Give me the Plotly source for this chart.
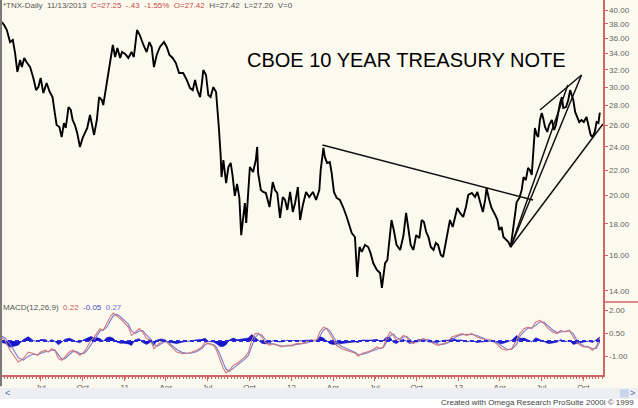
import plotly.graph_objects as go
import pandas as pd

# ---------------- data ----------------
start_date = pd.Timestamp("2010-04-03")

# daily-close path of ^TNX, days counted from start_date
price_day = [
    4, 9, 15, 19, 22, 28, 33, 38, 44, 48,
    53, 58, 66, 73, 79, 84, 89, 95, 102, 109,
    115, 120, 124, 130, 135, 140, 144, 150, 155, 159,
    164, 169, 175, 181, 186, 191, 197, 201, 206, 212,
    217, 223, 226, 232, 237, 242, 247, 252, 257, 263,
    267, 274, 281, 288, 293, 300, 306, 314, 321, 327,
    332, 337, 343, 350, 359, 365, 371, 378, 385, 392,
    401, 409, 416, 422, 427, 432, 438, 442, 445, 451,
    456, 461, 467, 473, 476, 479, 483, 485, 489, 495,
    500, 505, 509, 514, 519, 524, 528, 533, 536, 539,
    544, 547, 554, 560, 563, 565, 571, 576, 582, 590,
    597, 602, 607, 613, 619, 624, 629, 635, 641, 646,
    652, 657, 663, 670, 677, 685, 692, 699, 702, 708,
    711, 716, 722, 726, 731, 737, 744, 751, 759, 770,
    777, 782, 787, 792, 799, 806, 811, 817, 825, 832,
    836, 839, 843, 848, 852, 857, 862, 868, 876, 883,
    889, 894, 899, 905, 911, 918, 923, 928, 933, 938,
    943, 949, 954, 959, 965, 970, 976, 981, 985, 991,
    996, 1001, 1007, 1014, 1020, 1025, 1033, 1040, 1045, 1051,
    1057, 1062, 1065, 1071, 1076, 1084, 1089, 1093, 1098, 1102,
    1108, 1113, 1118, 1122, 1127, 1131, 1137, 1142, 1146, 1151,
    1156, 1160, 1164, 1167, 1171, 1175, 1178, 1182, 1186, 1189,
    1193, 1198, 1202, 1208, 1213, 1217, 1222, 1226, 1230, 1233,
    1239, 1244, 1248, 1251, 1255, 1259, 1264, 1268, 1273, 1278,
    1284, 1288, 1293, 1297, 1302, 1306, 1310, 1313,
]
price_close = [
    38.24, 37.82, 37.12, 36.30, 35.49, 35.76, 34.07, 31.73, 33.18, 32.32,
    33.44, 32.93, 32.32, 31.03, 29.66, 29.99, 31.03, 29.33, 30.45, 29.44,
    28.89, 27.22, 26.03, 25.84, 24.89, 26.22, 25.74, 27.84, 27.53, 26.52,
    26.03, 25.27, 23.98, 24.80, 25.27, 25.74, 27.02, 26.03, 25.08, 26.52,
    28.89, 28.58, 28.05, 29.88, 31.61, 33.18, 35.10, 33.56, 34.71, 33.44,
    34.19, 33.94, 33.44, 34.19, 33.56, 37.12, 36.43, 35.10, 34.19, 35.49,
    34.84, 32.32, 33.81, 34.84, 35.49, 34.84, 33.81, 33.44, 32.81, 31.61,
    31.61, 30.79, 29.88, 29.66, 30.79, 29.66, 28.89, 30.45, 31.97, 31.38,
    29.11, 28.89, 29.99, 29.44, 27.84, 25.84, 23.27, 21.43, 22.84, 20.95,
    22.25, 22.59, 21.59, 19.97, 20.88, 19.82, 17.25, 18.95, 19.45, 18.05,
    20.64, 22.25, 21.84, 22.84, 23.98, 21.76, 20.42, 20.27, 20.19, 19.16,
    21.03, 20.42, 20.19, 18.39, 19.89, 19.67, 18.95, 20.27, 18.81, 19.45,
    20.64, 18.25, 19.31, 20.27, 19.89, 20.27, 19.67, 20.42, 22.00, 23.89,
    23.10, 22.59, 22.67, 21.76, 20.27, 19.82, 19.67, 19.16, 18.46, 17.38,
    17.13, 14.75, 16.50, 16.20, 16.63, 16.50, 16.14, 15.54, 15.14, 14.97,
    14.16, 14.75, 15.54, 15.72, 16.75, 18.25, 17.58, 16.63, 16.32, 17.19,
    18.74, 17.78, 16.63, 16.32, 17.25, 17.06, 18.25, 18.11, 17.45, 17.13,
    16.50, 16.32, 16.75, 16.63, 16.02, 15.90, 16.75, 17.58, 18.25, 17.78,
    18.39, 19.09, 18.74, 18.46, 19.16, 20.04, 20.19, 19.89, 20.27, 19.45,
    18.81, 19.67, 20.57, 19.67, 19.09, 18.60, 18.25, 17.58, 17.78, 17.13,
    16.94, 16.81, 16.50, 17.38, 18.46, 19.52, 19.82, 20.42, 21.43, 21.19,
    22.17, 22.00, 21.59, 23.45, 25.74, 25.08, 24.89, 26.52, 27.22, 26.72,
    25.84, 25.36, 26.03, 26.52, 25.55, 26.03, 27.33, 28.26, 28.89, 27.74,
    27.84, 28.58, 29.66, 29.11, 28.58, 27.33, 26.82, 26.32, 26.52, 26.32,
    26.82, 26.03, 25.08, 24.89, 25.36, 26.32, 26.22, 27.25,
]

# MACD(12,26,9) panel
macd_day = [
    2, 11, 22, 33, 40, 51, 62, 73, 82, 89,
    99, 106, 113, 120, 128, 135, 142, 152, 159, 166,
    175, 184, 191, 199, 206, 213, 219, 226, 234, 241,
    248, 255, 263, 271, 281, 288, 296, 305, 312, 321,
    330, 337, 344, 352, 361, 368, 376, 387, 398, 409,
    420, 431, 442, 449, 456, 467, 474, 482, 489, 495,
    502, 511, 519, 527, 536, 544, 551, 558, 565, 573,
    580, 590, 598, 607, 617, 628, 639, 649, 660, 671,
    682, 693, 700, 708, 715, 722, 730, 737, 748, 759,
    770, 779, 784, 792, 803, 814, 825, 832, 839, 846,
    854, 861, 868, 876, 883, 890, 897, 905, 916, 927,
    938, 949, 959, 970, 981, 989, 1000, 1011, 1022, 1033,
    1044, 1054, 1065, 1076, 1087, 1098, 1109, 1120, 1131, 1138,
    1147, 1156, 1164, 1173, 1182, 1191, 1200, 1210, 1220, 1227,
    1237, 1246, 1255, 1262, 1270, 1278, 1288, 1297, 1305, 1313,
]
macd_line = [
    0.26, 0.05, -0.60, -1.04, -1.37, -1.15, -0.72, -0.82, -0.93, -0.72,
    -0.60, -0.72, -0.50, -0.60, -1.15, -1.26, -1.04, -0.72, -0.60, -0.72,
    -0.93, -0.72, -0.39, 0.05, 0.26, 0.59, 0.81, 0.70, 1.13, 1.57,
    1.83, 1.68, 1.46, 1.24, 0.91, 0.37, 0.59, 0.81, 0.59, 0.16,
    0.05, -0.50, -0.28, -0.07, 0.05, -0.17, -0.39, -0.72, -0.82, -0.82,
    -0.72, -0.60, -0.39, -0.07, -0.17, -0.28, -0.60, -1.26, -1.80, -2.09,
    -1.91, -1.58, -1.47, -1.26, -1.04, -0.72, 0.05, 0.48, 0.52, 0.26,
    -0.07, -0.28, -0.17, -0.28, -0.39, -0.28, -0.28, -0.17, -0.17, -0.07,
    0.05, 0.05, 0.59, 0.91, 0.81, 0.48, 0.05, -0.28, -0.50, -0.60,
    -0.72, -0.82, -1.00, -0.82, -0.72, -0.60, -0.39, -0.50, -0.39, 0.16,
    0.59, 0.37, 0.05, 0.16, 0.37, 0.26, -0.07, -0.17, 0.05, 0.16,
    0.05, -0.17, -0.28, -0.17, -0.07, 0.26, 0.37, 0.48, 0.37, 0.48,
    0.26, 0.16, 0.05, 0.05, -0.17, -0.50, -0.60, -0.50, 0.16, 0.48,
    0.81, 0.91, 0.81, 1.24, 1.35, 1.13, 0.81, 0.59, 0.48, 0.70,
    0.59, 0.70, 0.26, -0.07, -0.28, -0.39, -0.39, -0.60, -0.39, 0.22,
]
macd_signal = [
    0.35, 0.20, -0.20, -0.70, -1.10, -1.25, -1.00, -0.85, -0.90, -0.82,
    -0.70, -0.68, -0.60, -0.58, -0.90, -1.18, -1.15, -0.90, -0.70, -0.68,
    -0.82, -0.82, -0.60, -0.25, 0.05, 0.38, 0.65, 0.72, 0.90, 1.30,
    1.65, 1.75, 1.60, 1.38, 1.10, 0.66, 0.50, 0.66, 0.68, 0.38,
    0.12, -0.20, -0.35, -0.20, -0.04, -0.08, -0.28, -0.55, -0.74, -0.80,
    -0.78, -0.68, -0.50, -0.25, -0.15, -0.22, -0.42, -0.90, -1.45, -1.85,
    -1.98, -1.78, -1.55, -1.38, -1.18, -0.92, -0.38, 0.20, 0.45, 0.40,
    0.12, -0.15, -0.20, -0.24, -0.33, -0.32, -0.30, -0.22, -0.18, -0.12,
    -0.02, 0.04, 0.30, 0.72, 0.84, 0.66, 0.28, -0.08, -0.36, -0.52,
    -0.64, -0.76, -0.90, -0.88, -0.78, -0.66, -0.50, -0.46, -0.44, -0.10,
    0.35, 0.46, 0.22, 0.12, 0.26, 0.30, 0.10, -0.10, -0.05, 0.08,
    0.10, -0.05, -0.20, -0.22, -0.12, 0.08, 0.30, 0.42, 0.42, 0.44,
    0.36, 0.22, 0.10, 0.05, -0.05, -0.32, -0.52, -0.55, -0.20, 0.30,
    0.62, 0.84, 0.85, 1.02, 1.26, 1.22, 0.98, 0.72, 0.55, 0.60,
    0.64, 0.66, 0.48, 0.10, -0.16, -0.32, -0.38, -0.50, -0.48, -0.05,
]
macd_hist = [
    -0.09, -0.15, -0.40, -0.34, -0.27, 0.10, 0.28, 0.03, -0.03, 0.10,
    0.10, -0.04, 0.10, -0.02, -0.25, -0.08, 0.11, 0.18, 0.10, -0.04,
    -0.11, 0.10, 0.21, 0.30, 0.21, 0.21, 0.16, -0.02, 0.23, 0.27,
    0.18, -0.07, -0.14, -0.14, -0.19, -0.29, 0.09, 0.15, -0.09, -0.22,
    -0.07, -0.30, 0.07, 0.13, 0.09, -0.09, -0.11, -0.17, -0.08, -0.02,
    0.06, 0.08, 0.11, 0.18, -0.02, -0.06, -0.18, -0.36, -0.35, -0.24,
    0.07, 0.20, 0.08, 0.12, 0.14, 0.20, 0.43, 0.28, 0.07, -0.14,
    -0.19, -0.13, 0.03, -0.04, -0.06, 0.04, 0.02, 0.05, 0.01, 0.05,
    0.07, 0.01, 0.29, 0.19, -0.03, -0.18, -0.23, -0.20, -0.14, -0.08,
    -0.08, -0.06, -0.10, 0.06, 0.06, 0.06, 0.11, -0.04, 0.05, 0.26,
    0.24, -0.09, -0.17, 0.04, 0.11, -0.04, -0.17, -0.07, 0.10, 0.08,
    -0.05, -0.12, -0.08, 0.05, 0.05, 0.18, 0.07, 0.06, -0.05, 0.04,
    -0.10, -0.06, -0.05, 0.00, -0.12, -0.18, -0.08, 0.05, 0.36, 0.18,
    0.19, 0.07, -0.04, 0.22, 0.09, -0.09, -0.17, -0.13, -0.07, 0.10,
    -0.05, 0.04, -0.22, -0.17, -0.12, -0.07, -0.01, -0.10, 0.09, 0.27,
]

# hand-drawn trend lines (start date, start level, end date, end level)
trend_start_date = ["2012-03-09", "2013-04-25", "2013-04-25", "2013-06-28", "2013-04-25"]
trend_start_val = [24.16, 16.50, 16.50, 27.53, 16.50]
trend_end_date = ["2013-06-13", "2013-09-27", "2013-08-28", "2013-09-27", "2013-11-13"]
trend_end_val = [19.67, 31.38, 30.22, 31.38, 26.13]

# pattern labels
pattern_text = ["S?", "H?", "S?"]
pattern_date = ["2011-10-18", "2012-06-19", "2013-04-01"]
pattern_val = [17.13, 14.21, 16.07]

price_ticks = [14, 16, 18, 20, 22, 24, 26, 28, 30, 32, 34, 36, 38, 40]
macd_ticks = [2.0, 0.5, -1.0]
month_ticks = ["2010-07-01", "2010-10-01", "2011-01-01", "2011-04-01", "2011-07-01",
               "2011-10-01", "2012-01-01", "2012-04-01", "2012-07-01", "2012-10-01",
               "2013-01-01", "2013-04-01", "2013-07-01", "2013-10-01"]
month_labels = ["Jul", "Oct", "11", "Apr", "Jul", "Oct", "12", "Apr", "Jul", "Oct",
                "13", "Apr", "Jul", "Oct"]

# ---------------- figure ----------------
price_dates = start_date + pd.to_timedelta(price_day, unit="D")
macd_dates = start_date + pd.to_timedelta(macd_day, unit="D")

BG = "#fcfaee"
RED = "#d26464"
FONT = "Liberation Sans, Arial, sans-serif"
SPLIT = 0.1947

fig = go.Figure()

fig.add_trace(go.Scatter(x=macd_dates, y=macd_hist, xaxis="x", yaxis="y2", mode="lines",
                         line=dict(color="#1414c8", width=0.6), fill="tozeroy",
                         fillcolor="#1414c8", hoverinfo="skip"))
fig.add_trace(go.Scatter(x=macd_dates, y=macd_signal, xaxis="x", yaxis="y2", mode="lines",
                         line=dict(color="#7878d2", width=1.1)))
fig.add_trace(go.Scatter(x=macd_dates, y=macd_line, xaxis="x", yaxis="y2", mode="lines",
                         line=dict(color="#d27878", width=1.1)))

fig.add_trace(go.Scatter(x=price_dates, y=price_close, xaxis="x", yaxis="y", mode="lines",
                         line=dict(color="#000000", width=1.9)))

for sd, sv, ed, ev in zip(trend_start_date, trend_start_val, trend_end_date, trend_end_val):
    fig.add_trace(go.Scatter(x=[sd, ed], y=[sv, ev], xaxis="x", yaxis="y", mode="lines",
                             line=dict(color="#111111", width=1.5)))

for t, d, v in zip(pattern_text, pattern_date, pattern_val):
    fig.add_annotation(x=d, y=v, xref="x", yref="y", text=t, showarrow=False,
                       font=dict(family=FONT, size=11, color="#8c8c8c"))

# zero line of MACD
fig.add_shape(type="line", xref="paper", x0=0, x1=1, yref="y2", y0=0, y1=0,
              line=dict(color="#2a2ad8", width=2, dash="4px,3px"))

x_lo = start_date + pd.Timedelta(days=2.2)
x_hi = start_date + pd.Timedelta(days=1320)

fig.update_layout(
    width=638, height=408,
    margin=dict(l=1, r=35, t=0, b=33),
    paper_bgcolor=BG, plot_bgcolor=BG,
    showlegend=False,
    font=dict(family=FONT, size=8, color="#555555"),
    xaxis=dict(domain=[0, 1], anchor="y2", type="date", range=[x_lo, x_hi],
               showgrid=False, zeroline=False, showline=True, linecolor=RED, linewidth=1.5,
               ticks="outside", ticklen=4, tickcolor=RED, tickwidth=1,
               tickmode="array", tickvals=month_ticks, ticktext=month_labels,
               tickfont=dict(family=FONT, size=8, color="#555555"),
               minor=dict(tickmode="linear", tick0="2010-04-05", dtick=7 * 86400000,
                          ticks="outside", ticklen=2, tickcolor=RED, showgrid=False)),
    yaxis=dict(domain=[SPLIT, 1], anchor="x", side="right", type="log",
               range=[1.12828, 1.61831], showgrid=False, zeroline=False,
               showline=True, linecolor=RED, linewidth=1.5,
               ticks="outside", ticklen=3, tickcolor=RED,
               tickmode="array", tickvals=price_ticks,
               ticktext=[f"{v:.2f}" for v in price_ticks],
               tickfont=dict(family=FONT, size=8, color="#666666")),
    yaxis2=dict(domain=[0, SPLIT], anchor="x", side="right",
                range=[-2.22, 2.55], showgrid=False, zeroline=False,
                showline=True, linecolor=RED, linewidth=1.5,
                ticks="outside", ticklen=3, tickcolor=RED,
                tickmode="array", tickvals=macd_ticks,
                ticktext=[f"{v:.2f}" for v in macd_ticks],
                tickfont=dict(family=FONT, size=8, color="#666666")),
)

# panel separator at the right of the axis
fig.add_shape(type="line", xref="paper", yref="paper", x0=1, x1=1.06, y0=SPLIT, y1=SPLIT,
              line=dict(color=RED, width=1.5))
# left border
fig.add_shape(type="line", xref="paper", yref="paper", x0=0, x1=0, y0=-0.03, y1=1,
              line=dict(color="#7a7a7a", width=2))
# scroll bar and footer band
fig.add_shape(type="rect", xref="paper", yref="paper", x0=-0.01, x1=1.06, y0=-0.064, y1=-0.034,
              fillcolor="#eeeff2", line=dict(width=0), layer="above")
fig.add_shape(type="rect", xref="paper", yref="paper", x0=-0.01, x1=1.06, y0=-0.1, y1=-0.064,
              fillcolor="#ffffff", line=dict(width=0), layer="above")
fig.add_shape(type="rect", xref="paper", yref="paper", x0=1.028, x1=1.043, y0=-0.06, y1=-0.038,
              fillcolor="#c9d5ea", line=dict(width=0), layer="above")

fig.add_annotation(xref="paper", yref="paper", x=0.003, y=-0.049, text="<",
                   showarrow=False, xanchor="left", yanchor="middle",
                   font=dict(family=FONT, size=9, color="#4a6ab0"))
fig.add_annotation(xref="paper", yref="paper", x=1.0565, y=-0.049, text=">",
                   showarrow=False, xanchor="right", yanchor="middle",
                   font=dict(family=FONT, size=9, color="#4a6ab0"))
fig.add_annotation(xref="paper", yref="paper", x=1.054, y=-0.0745,
                   text="Created with Omega Research ProSuite 2000i \u00a9 1999",
                   showarrow=False, xanchor="right", yanchor="middle",
                   font=dict(family=FONT, size=8, color="#444444"))

# title
fig.add_annotation(xref="paper", yref="paper", x=0.673, y=0.84,
                   text="CBOE 10 YEAR TREASURY NOTE", showarrow=False,
                   xanchor="center", yanchor="middle",
                   font=dict(family=FONT, size=20, color="#000000"))

# header line
sp = "&nbsp;&nbsp;"
header = ("*TNX-Daily" + sp + "11/13/2013" + sp +
          "<span style='color:#c84848'>C=27.25" + sp + "-.43" + sp + "-1.55%" + sp +
          "O=27.42</span>" + sp + "H=27.42" + sp + "L=27.20" + sp + "V=0")
fig.add_annotation(xref="paper", yref="paper", x=0.0, y=0.985, text=header,
                   showarrow=False, xanchor="left", yanchor="middle",
                   font=dict(family=FONT, size=8, color="#555555"))

# MACD legend text
macd_label = ("MACD(12,26,9)" + sp + "<span style='color:#c85a5a'>0.22</span>" + sp +
              "<span style='color:#4a4ac8'>-0.05</span>" + sp +
              "<span style='color:#6a6ad0'>0.27</span>")
fig.add_annotation(xref="paper", yref="paper", x=0.0, y=0.181, text=macd_label,
                   showarrow=False, xanchor="left", yanchor="middle",
                   font=dict(family=FONT, size=8, color="#555555"))

fig.write_html("out.html", config={"displayModeBar": False, "staticPlot": True},
               post_script="document.body.style.margin='0px';")
